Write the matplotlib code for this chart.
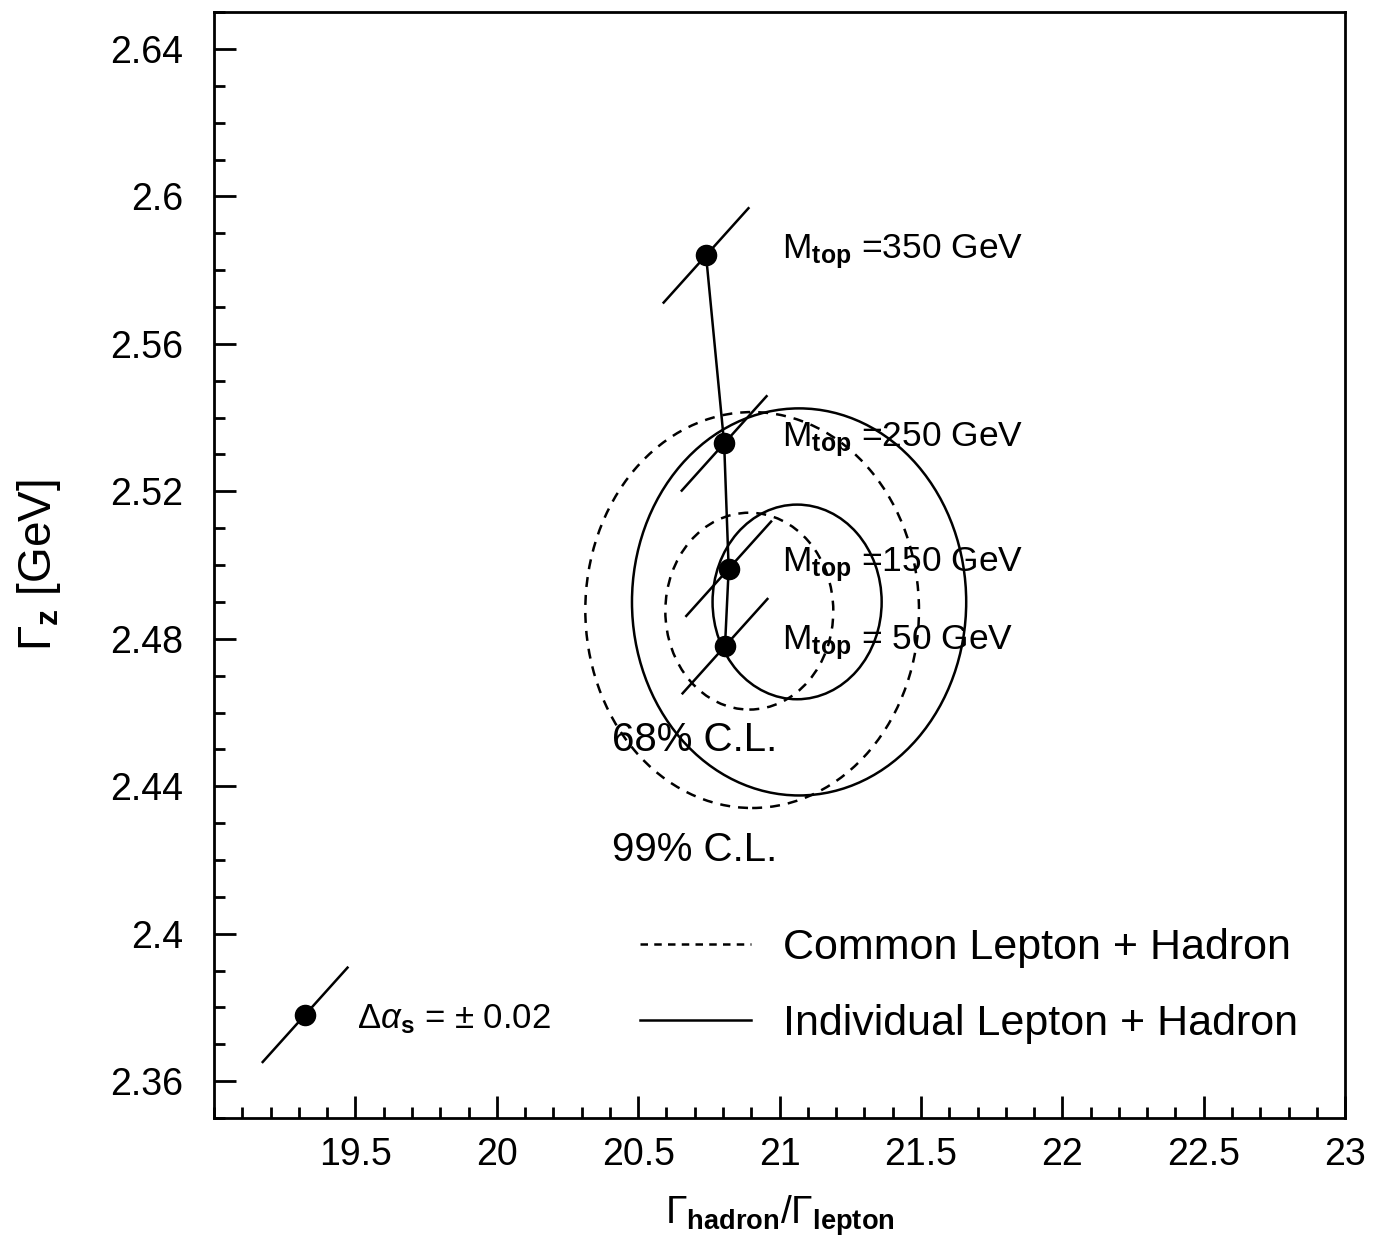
import matplotlib
matplotlib.use("Agg")
import matplotlib.pyplot as plt
from matplotlib.patches import Ellipse
from matplotlib.lines import Line2D
from matplotlib.ticker import MultipleLocator

plt.rcParams['font.family'] = ['Liberation Sans', 'DejaVu Sans']
plt.rcParams['mathtext.fontset'] = 'custom'
plt.rcParams['mathtext.rm'] = 'Liberation Sans'
plt.rcParams['mathtext.it'] = 'Liberation Sans:italic'
plt.rcParams['mathtext.bf'] = 'Liberation Sans:bold'

# Standard Model predictions for several top masses
mtop_labels = ["350", "250", "150", " 50"]
sm_ratio = [20.74, 20.804, 20.82, 20.807]
sm_width = [2.584, 2.533, 2.499, 2.478]

# shift of each prediction for delta alpha_s = +-0.02
das_dx = 0.150
das_dy = 0.0128

# reference point showing the alpha_s lever arm
ref_ratio = 19.322
ref_width = 2.378

# confidence contours: (centre x, centre y, half width x, half width y)
common_68 = (20.893, 2.4875, 0.297, 0.0267)
common_99 = (20.903, 2.4878, 0.590, 0.0537)
indiv_68 = (21.062, 2.4900, 0.299, 0.0264)
indiv_99 = (21.069, 2.4900, 0.591, 0.0525)

xticks = [19.5, 20, 20.5, 21, 21.5, 22, 22.5, 23]
yticks = [2.36, 2.40, 2.44, 2.48, 2.52, 2.56, 2.60, 2.64]

fig = plt.figure(figsize=(13.81, 12.46), dpi=100)
ax = fig.add_axes([0.155, 0.1027, 0.819, 0.8876])
ax.set_xlim(19.0, 23.0)
ax.set_ylim(2.35, 2.65)

lw = 1.8
dash = (0, (4.0, 3.2))

for (cx, cy, hx, hy), ls in [(common_68, dash), (common_99, dash),
                             (indiv_68, '-'), (indiv_99, '-')]:
    ax.add_patch(Ellipse((cx, cy), 2 * hx, 2 * hy, fill=False,
                         edgecolor='black', linewidth=lw, linestyle=ls))

# top-mass trajectory
ax.plot(sm_ratio, sm_width, color='black', linewidth=lw)
for x, y in zip(sm_ratio + [ref_ratio], sm_width + [ref_width]):
    ax.plot([x - das_dx, x + das_dx], [y - das_dy, y + das_dy],
            color='black', linewidth=lw)
ax.plot(sm_ratio + [ref_ratio], sm_width + [ref_width], 'o', color='black',
        markersize=14.5, linestyle='none')

for lab, y in zip(mtop_labels, sm_width):
    ax.text(21.009, y + 0.001, r'$\mathrm{M}_{\mathbf{top}}$ =' + lab + ' GeV',
            fontsize=25.5, va='center', ha='left')

ax.text(19.506, 2.3768, r'$\Delta\alpha_{\mathbf{s}}$ = $\pm$ 0.02',
        fontsize=25, va='center', ha='left')
ax.text(20.408, 2.4525, '68% C.L.', fontsize=29, va='center', ha='left')
ax.text(20.408, 2.4227, '99% C.L.', fontsize=29, va='center', ha='left')

handles = [Line2D([], [], color='black', linewidth=lw, linestyle=(0, (3, 2.5))),
           Line2D([], [], color='black', linewidth=lw)]
ax.legend(handles, ['Common Lepton + Hadron', 'Individual Lepton + Hadron'],
          loc='upper left', bbox_to_anchor=(0.377, 0.172), frameon=False,
          fontsize=31, handlelength=2.56, handletextpad=0.74,
          labelspacing=0.84, borderpad=0, borderaxespad=0)

ax.set_xticks(xticks)
ax.set_xticklabels([f'{t:g}' for t in xticks])
ax.set_yticks(yticks)
ax.set_yticklabels([f'{t:g}' for t in yticks])
ax.xaxis.set_minor_locator(MultipleLocator(0.1))
ax.yaxis.set_minor_locator(MultipleLocator(0.01))
ax.tick_params(which='both', direction='in', top=False, right=False,
               width=2, labelsize=27)
ax.tick_params(axis='x', which='major', length=16, pad=14)
ax.tick_params(axis='y', which='major', length=16, pad=22)
ax.tick_params(which='minor', length=8)
for sp in ax.spines.values():
    sp.set_linewidth(2)

ax.set_xlabel(r'$\Gamma_{\mathbf{hadron}}/\Gamma_{\mathbf{lepton}}$',
              fontsize=28, labelpad=14)
ax.set_ylabel(r'$\Gamma_{\mathbf{z}}$ [GeV]', fontsize=33, labelpad=34)

fig.savefig('out.png', dpi=100)
